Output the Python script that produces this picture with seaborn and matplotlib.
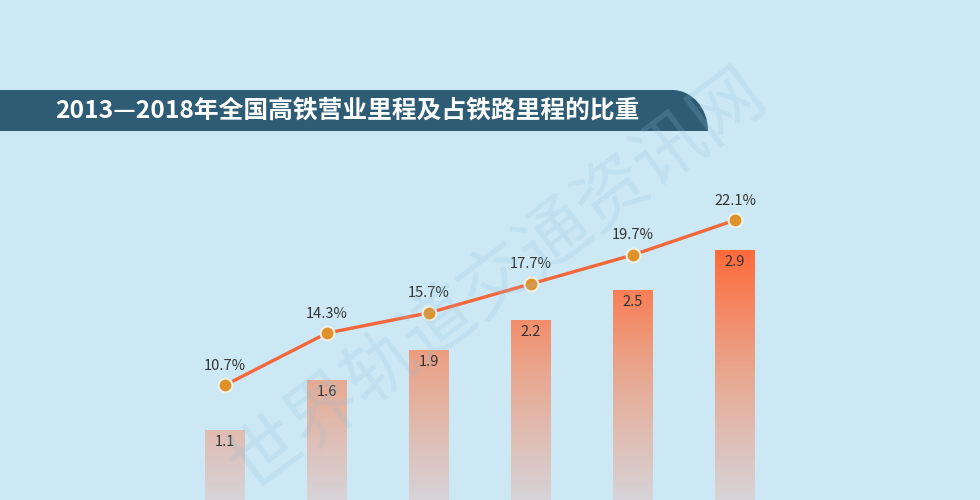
import numpy as np
import matplotlib
matplotlib.use("Agg")
import matplotlib.pyplot as plt
import seaborn as sns
from matplotlib.colors import LinearSegmentedColormap, Normalize
from matplotlib.path import Path
from matplotlib.patches import PathPatch

# data
years = ["2013", "2014", "2015", "2016", "2017", "2018"]
mileage = [1.1, 1.6, 1.9, 2.2, 2.5, 2.9]          # 万公里
share = [10.7, 14.3, 15.7, 17.7, 19.7, 22.1]      # %
share_labels = ["10.7%", "14.3%", "15.7%", "17.7%", "19.7%", "22.1%"]
title = "2013—2018年全国高铁营业里程及占铁路里程的比重"
watermark = "世界轨道交通资讯网"

bg = "#cce8f5"
sns.set_style("white")
plt.rcParams["font.family"] = ["Noto Sans CJK SC", "DejaVu Sans"]

W, H = 980, 500
fig = plt.figure(figsize=(W / 100, H / 100), dpi=100, facecolor=bg)


def fx(px):
    return px / W


def fy(py):
    return 1 - py / H


# title banner with rounded right end
verts = [(fx(-5), fy(90)), (fx(672), fy(90)),
         (fx(692), fy(90)), (fx(708), fy(108)), (fx(708), fy(131)),
         (fx(-5), fy(131)), (fx(-5), fy(90))]
codes = [Path.MOVETO, Path.LINETO, Path.CURVE4, Path.CURVE4, Path.CURVE4,
         Path.LINETO, Path.CLOSEPOLY]
fig.patches.append(PathPatch(Path(verts, codes), transform=fig.transFigure,
                             facecolor="#2e5c75", edgecolor="none", zorder=1))
fig.text(fx(55), fy(111), title, color="white", fontsize=17.8, fontweight="bold",
         ha="left", va="center", zorder=2)

# main axes: zero line sits below the picture edge
ax = fig.add_axes([fx(174), -0.08, fx(612), 0.8])
ax.set_facecolor("none")
sns.barplot(x=years, y=mileage, ax=ax, width=0.39, color="#f08060",
            linewidth=0, saturation=1)
ax.set_xlim(-0.5, 5.5)
ax.set_ylim(0, 4)
ax.axis("off")

cmap = LinearSegmentedColormap.from_list("g", ["#d6d3d7", "#e8a890", "#ff6a3a"])
norm = Normalize(vmin=0.4, vmax=2.9)
for p, v in zip(ax.patches, mileage):
    x0 = p.get_x()
    x1 = x0 + p.get_width()
    h = p.get_height()
    grad = np.linspace(0, h, 200).reshape(-1, 1)
    im = ax.imshow(grad, extent=[x0, x1, 0, h], origin="lower", aspect="auto",
                   cmap=cmap, norm=norm, zorder=2)
    im.set_clip_path(p)
    p.set_facecolor("none")
    ax.annotate(f"{v}", (p.get_x() + p.get_width() / 2, h), xytext=(0, -8.5),
                textcoords="offset points", ha="center", va="center",
                fontsize=10.5, color="#333333", zorder=4)

# share line on a twin axis
ax2 = ax.twinx()
ax2.set_facecolor("none")
sns.lineplot(x=years, y=share, ax=ax2, sort=False, color="#f5673a", lw=2.4,
             marker="o", markersize=10, markerfacecolor="#e0922a",
             markeredgecolor="#eef2e6", markeredgewidth=1.5, zorder=5)
ax2.set_ylim(0, 27.64)
ax2.set_xlim(-0.5, 5.5)
ax2.axis("off")
for i, (v, lab) in enumerate(zip(share, share_labels)):
    ax2.annotate(lab, (i, v), xytext=(0, 14), textcoords="offset points",
                 ha="center", va="center", fontsize=10.5, color="#333333")

# faint diagonal watermark over the plot
fig.text(fx(497), fy(280), watermark, fontsize=52, color="#8fbdd8", alpha=0.2,
         rotation=37, ha="center", va="center", zorder=10)

fig.savefig("out.png", dpi=100, facecolor=bg)
